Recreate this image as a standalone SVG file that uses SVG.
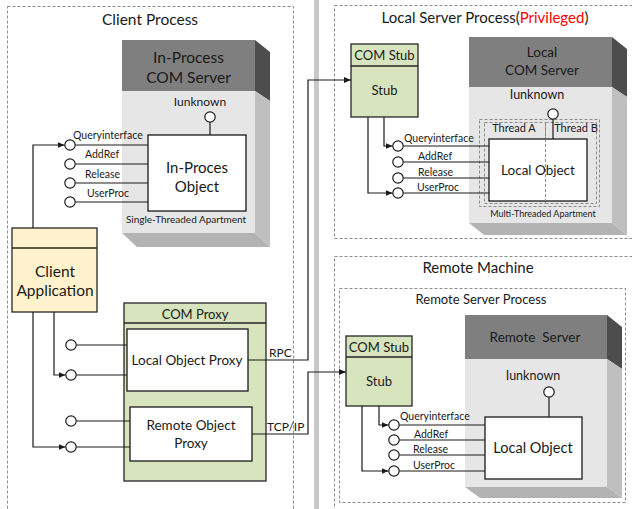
<svg xmlns="http://www.w3.org/2000/svg" width="632" height="509" viewBox="0 0 632 509">
<style>
text{font-family:Lato,"Liberation Sans",sans-serif;fill:#1a1a1a}
.c{text-anchor:middle}
.dash{fill:none;stroke:#8c8c8c;stroke-width:1;stroke-dasharray:3,2}
.box{fill:#fff;stroke:#1a1a1a;stroke-width:1.3}
.grn{fill:#d7e4bd;stroke:#262626;stroke-width:1.3}
.yel{fill:#fff2cc;stroke:#262626;stroke-width:1.3}
.ln{fill:none;stroke:#1a1a1a;stroke-width:1.2}
.ar{fill:none;stroke:#1a1a1a;stroke-width:1.2;marker-end:url(#ah)}
.ic{fill:#fff;stroke:#1a1a1a;stroke-width:1.2}
.front{fill:#e6e6e6}
.top{fill:#7f7f7f}
.sd{fill:#4d4d4d}
.sl{fill:#bfbfbf}
.bt{fill:#b3b3b3}
.lbl{font-size:10.5px}
</style>
<defs>
<marker id="ah" markerWidth="8" markerHeight="8" refX="7" refY="4" orient="auto" markerUnits="userSpaceOnUse">
<path d="M0,1 L7,4 L0,7 Z" fill="#1a1a1a"/>
</marker>
</defs>
<rect x="0" y="0" width="632" height="509" fill="#fff"/>

<!-- Containers -->
<g id="client-process">
<rect class="dash" x="7.5" y="6.5" width="286" height="520"/>
<text class="c" x="150" y="25" font-size="15.5">Client Process</text>
</g>
<rect id="divider" x="314" y="0" width="5" height="509" fill="#c8c8c8"/>
<g id="local-server-process">
<rect class="dash" x="334.5" y="5.5" width="310" height="233"/>
<text class="c" x="485" y="23" font-size="15"><tspan>Local Server Process(</tspan><tspan fill="#ff0000" style="fill:#ff0000">Privileged</tspan><tspan>)</tspan></text>
</g>
<g id="remote-machine">
<rect class="dash" x="334.5" y="256.5" width="310" height="270"/>
<text class="c" x="478" y="273" font-size="15">Remote Machine</text>
</g>
<g id="remote-server-process">
<rect class="dash" x="339.5" y="288.5" width="286" height="214"/>
<text class="c" x="481" y="304" font-size="13">Remote Server Process</text>
</g>

<!-- In-Process COM Server -->
<g id="inproc-server">
<polygon class="sd" points="255,40 270,52 270,101 255,91"/>
<polygon class="sl" points="255,91 270,101 270,247 255,233"/>
<polygon class="bt" points="122,233 255,233 270,247 137,247"/>
<rect class="front" x="122" y="91" width="133" height="142"/>
<rect class="top" x="122" y="40" width="133" height="51"/>
<text class="c" x="188.5" y="63" font-size="15.5">In-Process</text>
<text class="c" x="188.5" y="83" font-size="15.5">COM Server</text>
<text class="c" x="200" y="106" font-size="12">Iunknown</text>
<text class="c" x="186" y="223" font-size="10">Single-Threaded Apartment</text>
</g>
<g id="inproc-object">
<rect class="box" x="148" y="135" width="98" height="76"/>
<text class="c" x="197" y="173" font-size="15">In-Proces</text>
<text class="c" x="197" y="192" font-size="15">Object</text>
</g>

<!-- Client Application -->
<g id="client-app">
<rect class="yel" x="12" y="228" width="85" height="84"/>
<line x1="12" y1="248" x2="97" y2="248" stroke="#262626" stroke-width="1.3"/>
<text class="c" x="55" y="277" font-size="15.5">Client</text>
<text class="c" x="55" y="296" font-size="15.5">Application</text>
</g>

<!-- COM Proxy -->
<g id="com-proxy">
<rect class="grn" x="124" y="303" width="142" height="178"/>
<line x1="124" y1="323" x2="266" y2="323" stroke="#262626" stroke-width="1.3"/>
<text class="c" x="195" y="319" font-size="13">COM Proxy</text>
</g>
<g id="local-object-proxy">
<rect class="box" x="127" y="329" width="121" height="62"/>
<text class="c" x="187" y="365" font-size="13.5">Local Object Proxy</text>
</g>
<g id="remote-object-proxy">
<rect class="box" x="130" y="407" width="122" height="54"/>
<text class="c" x="191" y="430" font-size="13.5">Remote Object</text>
<text class="c" x="191" y="448" font-size="13.5">Proxy</text>
</g>

<!-- Local stub -->
<g id="local-stub">
<rect class="grn" x="351" y="44" width="67" height="73"/>
<line x1="351" y1="66" x2="418" y2="66" stroke="#262626" stroke-width="1.3"/>
<text class="c" x="384.5" y="60" font-size="13">COM Stub</text>
<text class="c" x="384.5" y="95" font-size="13">Stub</text>
</g>

<!-- Local COM Server -->
<g id="local-server">
<polygon class="sd" points="612,37 627,49 627,97 612,87"/>
<polygon class="sl" points="612,87 627,97 627,235 612,223"/>
<polygon class="bt" points="469,223 612,223 627,235 484,235"/>
<rect class="front" x="469" y="87" width="143" height="136"/>
<rect class="top" x="469" y="37" width="143" height="50"/>
<text class="c" x="542" y="57" font-size="13.5">Local</text>
<text class="c" x="542" y="75" font-size="13.5">COM Server</text>
<text class="c" x="537" y="99" font-size="12.5">Iunknown</text>
<rect class="dash" x="479.5" y="119.5" width="120" height="87"/>
<rect class="dash" x="484.5" y="122.5" width="61" height="81"/>
<rect class="dash" x="545.5" y="122.5" width="51" height="81"/>
<text class="c" x="514" y="132" font-size="11">Thread A</text>
<text class="c" x="576" y="132" font-size="11">Thread B</text>
<text class="c" x="543" y="217" font-size="9">Multi-Threaded Apartment</text>
</g>
<g id="local-object">
<rect class="box" x="489" y="139" width="98" height="62"/>
<line x1="545.5" y1="139" x2="545.5" y2="201" class="dash"/>
<text class="c" x="538" y="175" font-size="13.5">Local Object</text>
</g>

<!-- Remote stub -->
<g id="remote-stub">
<rect class="grn" x="346" y="336" width="66" height="70"/>
<line x1="346" y1="357" x2="412" y2="357" stroke="#262626" stroke-width="1.3"/>
<text class="c" x="379" y="352" font-size="13">COM Stub</text>
<text class="c" x="379" y="386" font-size="13">Stub</text>
</g>

<!-- Remote Server -->
<g id="remote-server">
<polygon class="sd" points="607,315 622,327 622,369 607,359"/>
<polygon class="sl" points="607,359 622,369 622,498 607,487"/>
<polygon class="bt" points="465,487 607,487 622,498 480,498"/>
<rect class="front" x="465" y="359" width="142" height="128"/>
<rect class="top" x="465" y="315" width="142" height="44"/>
<text class="c" x="535" y="342" font-size="13.5" xml:space="preserve">Remote  Server</text>
<text class="c" x="533" y="380" font-size="12.5">Iunknown</text>
</g>
<g id="remote-object">
<rect class="box" x="485" y="417" width="97" height="62"/>
<text class="c" x="533" y="453" font-size="14.5">Local Object</text>
</g>

<!-- Connectors -->
<g id="connectors">
<!-- in-proc interfaces -->
<line class="ln" x1="210" y1="122" x2="210" y2="135"/>
<circle class="ic" cx="210" cy="117" r="5.2"/>
<line class="ln" x1="75.5" y1="145" x2="148" y2="145"/>
<line class="ln" x1="75.5" y1="164" x2="148" y2="164"/>
<line class="ln" x1="75.5" y1="183" x2="148" y2="183"/>
<line class="ln" x1="75.5" y1="202" x2="148" y2="202"/>
<circle class="ic" cx="70" cy="145" r="5.2"/>
<circle class="ic" cx="70" cy="164" r="5.2"/>
<circle class="ic" cx="70" cy="183" r="5.2"/>
<circle class="ic" cx="70" cy="202" r="5.2"/>
<text class="lbl" x="73" y="139">Queryinterface</text>
<text class="lbl" x="85" y="158">AddRef</text>
<text class="lbl" x="85" y="178">Release</text>
<text class="lbl" x="87" y="197">UserProc</text>
<polyline class="ar" points="33,228 33,145 64.5,145"/>

<!-- proxy interfaces -->
<line class="ln" x1="76.5" y1="345" x2="127" y2="345"/>
<line class="ln" x1="76.5" y1="375" x2="127" y2="375"/>
<line class="ln" x1="76.5" y1="421" x2="130" y2="421"/>
<line class="ln" x1="76.5" y1="447" x2="130" y2="447"/>
<circle class="ic" cx="71" cy="345" r="5.2"/>
<circle class="ic" cx="71" cy="375" r="5.2"/>
<circle class="ic" cx="71" cy="421" r="5.2"/>
<circle class="ic" cx="71" cy="447" r="5.2"/>
<polyline class="ar" points="54,312 54,375 65.5,375"/>
<polyline class="ar" points="33,312 33,447 65.5,447"/>

<!-- RPC / TCP -->
<polyline class="ar" points="248,360 308,360 308,80 351,80"/>
<text x="269" y="357" font-size="12">RPC</text>
<polyline class="ar" points="252,434 308,434 308,372 346,372"/>
<text x="267" y="431" font-size="12">TCP/IP</text>

<!-- local stub interfaces -->
<line class="ln" x1="553" y1="119" x2="553" y2="139"/>
<circle class="ic" cx="553" cy="114" r="5.2"/>
<line class="ln" x1="403.5" y1="146" x2="489" y2="146"/>
<line class="ln" x1="403.5" y1="162" x2="489" y2="162"/>
<line class="ln" x1="403.5" y1="178" x2="489" y2="178"/>
<line class="ln" x1="403.5" y1="193" x2="489" y2="193"/>
<circle class="ic" cx="398" cy="146" r="5.2"/>
<circle class="ic" cx="398" cy="162" r="5.2"/>
<circle class="ic" cx="398" cy="178" r="5.2"/>
<circle class="ic" cx="398" cy="193" r="5.2"/>
<text class="lbl" x="404" y="142">Queryinterface</text>
<text class="lbl" x="418" y="160">AddRef</text>
<text class="lbl" x="418" y="176">Release</text>
<text class="lbl" x="417" y="191">UserProc</text>
<polyline class="ar" points="384,117 384,146 392.5,146"/>
<polyline class="ar" points="368,117 368,193 392.5,193"/>

<!-- remote stub interfaces -->
<line class="ln" x1="549" y1="397" x2="549" y2="417"/>
<circle class="ic" cx="549" cy="392" r="5.2"/>
<line class="ln" x1="399.5" y1="425" x2="485" y2="425"/>
<line class="ln" x1="399.5" y1="440" x2="485" y2="440"/>
<line class="ln" x1="399.5" y1="455" x2="485" y2="455"/>
<line class="ln" x1="399.5" y1="471" x2="485" y2="471"/>
<circle class="ic" cx="394" cy="425" r="5.2"/>
<circle class="ic" cx="394" cy="440" r="5.2"/>
<circle class="ic" cx="394" cy="455" r="5.2"/>
<circle class="ic" cx="394" cy="471" r="5.2"/>
<text class="lbl" x="400" y="420">Queryinterface</text>
<text class="lbl" x="414" y="438">AddRef</text>
<text class="lbl" x="413" y="453">Release</text>
<text class="lbl" x="413" y="469">UserProc</text>
<polyline class="ar" points="379,406 379,425 388.5,425"/>
<polyline class="ar" points="362,406 362,471 388.5,471"/>
</g>
</svg>
